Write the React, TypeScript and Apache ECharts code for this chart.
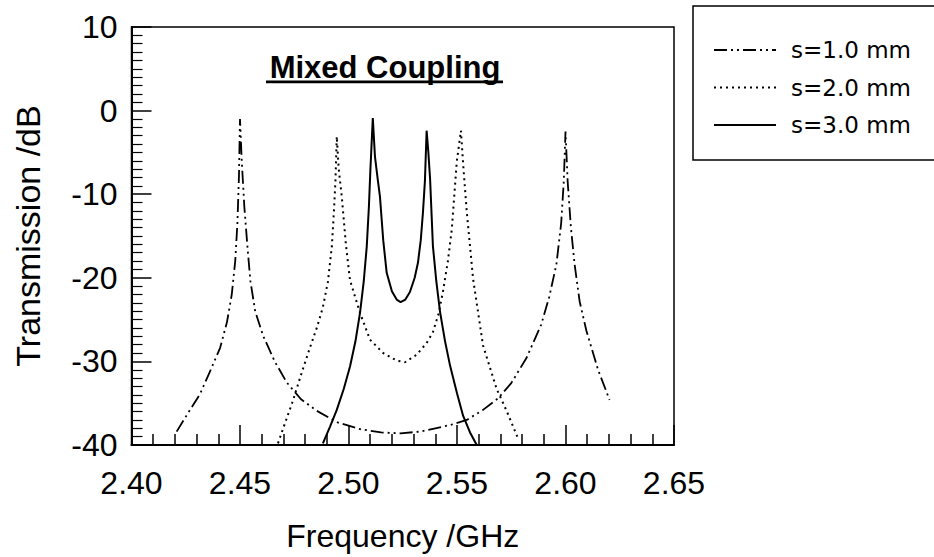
import React, { useEffect, useRef } from "react";
import * as echarts from "echarts";

const xTicks = [2.4, 2.45, 2.5, 2.55, 2.6, 2.65];
const yTicks = [-40, -30, -20, -10, 0, 10];

const seriesNames = ["s=1.0 mm", "s=2.0 mm", "s=3.0 mm"];

const s1Freq = [2.4208, 2.426, 2.4316, 2.436, 2.4408, 2.444, 2.4462, 2.4478, 2.4488, 2.4495, 2.45, 2.4508, 2.452, 2.4535, 2.4548, 2.457, 2.4606, 2.466, 2.4715, 2.478, 2.4853, 2.495, 2.5053, 2.515, 2.524, 2.533, 2.54, 2.547, 2.5545, 2.562, 2.569, 2.575, 2.582, 2.5888, 2.5925, 2.5958, 2.598, 2.5992, 2.6, 2.601, 2.6025, 2.6042, 2.6065, 2.6096, 2.615, 2.6203];
const s1Db = [-38.4, -36.2, -33.9, -31.3, -28.4, -25.3, -22.0, -18.0, -13.5, -8.0, -1.0, -6.0, -11.5, -16.5, -20.4, -24.0, -26.9, -30.0, -32.5, -34.5, -35.9, -37.3, -38.1, -38.5, -38.6, -38.4, -38.0, -37.6, -37.0, -35.8, -34.4, -32.6, -29.6, -25.6, -22.3, -18.4, -13.5, -8.5, -2.5, -8.5, -14.0, -18.4, -22.8, -26.3, -31.0, -34.6];

const s2Freq = [2.4675, 2.471, 2.4744, 2.4785, 2.4823, 2.4855, 2.4882, 2.4905, 2.4923, 2.4933, 2.494, 2.4946, 2.4955, 2.4969, 2.4988, 2.5007, 2.5053, 2.5099, 2.516, 2.5222, 2.526, 2.5314, 2.536, 2.5389, 2.5415, 2.5435, 2.5458, 2.5476, 2.5499, 2.5518, 2.553, 2.5545, 2.5574, 2.562, 2.5683, 2.573, 2.5781];
const s2Db = [-39.8, -37.2, -34.7, -31.3, -28.3, -25.9, -23.5, -20.5, -16.3, -12.0, -8.3, -3.1, -7.0, -10.3, -16.0, -20.3, -24.2, -27.4, -29.0, -29.9, -30.1, -29.2, -27.8, -26.5, -24.3, -21.7, -18.0, -14.2, -6.1, -2.4, -7.0, -12.1, -20.1, -28.1, -33.3, -36.0, -39.2];

const s3Freq = [2.4882, 2.4915, 2.4946, 2.4978, 2.5007, 2.5032, 2.5053, 2.507, 2.5084, 2.5094, 2.5101, 2.5112, 2.5122, 2.5135, 2.5145, 2.516, 2.5176, 2.52, 2.5222, 2.524, 2.5262, 2.5283, 2.5305, 2.532, 2.5333, 2.5343, 2.5352, 2.536, 2.5368, 2.5376, 2.5389, 2.5405, 2.5422, 2.5445, 2.5468, 2.55, 2.5528, 2.556, 2.5591];
const s3Db = [-39.8, -37.8, -35.8, -33.3, -30.6, -27.6, -24.2, -20.5, -16.3, -11.5, -7.0, -0.9, -5.5, -8.3, -10.3, -15.5, -19.4, -21.6, -22.6, -22.9, -22.6, -21.7, -20.0, -18.2, -15.5, -12.2, -8.5, -2.4, -5.0, -8.2, -16.2, -20.5, -24.1, -27.6, -30.5, -33.8, -36.5, -38.5, -40.0];

const FONT = "'Liberation Sans', Arial, sans-serif";

function pairs(xs: number[], ys: number[]) {
  return xs.map((x, i) => [x, ys[i]]);
}

export default function App() {
  const ref = useRef<HTMLDivElement>(null);
  useEffect(() => {
    if (!ref.current) return;
    const chart = echarts.init(ref.current, null, { renderer: "svg" });
    const lineStyles: any[] = [
      { color: "#000", width: 1.8, type: [13, 4, 2, 4, 2, 4] },
      { color: "#000", width: 2, type: [2, 4] },
      { color: "#000", width: 2, type: "solid" },
    ];
    const datas = [pairs(s1Freq, s1Db), pairs(s2Freq, s2Db), pairs(s3Freq, s3Db)];
    chart.setOption({
      animation: false,
      backgroundColor: "#fff",
      title: {
        text: "Mixed Coupling",
        left: 385,
        top: 52,
        textAlign: "center",
        padding: 0,
        textStyle: { fontFamily: FONT, fontSize: 31, fontWeight: "bold", color: "#000", lineHeight: 31 },
      },
      grid: {
        left: 131.5,
        right: 934 - 674,
        top: 27,
        bottom: 557 - 445,
        show: true,
        borderColor: "#000",
        borderWidth: 1.5,
      },
      legend: {
        orient: "vertical",
        left: 713,
        top: 38,
        padding: 0,
        itemWidth: 62,
        itemHeight: 24,
        itemGap: 13.5,
        data: seriesNames,
        itemStyle: { opacity: 0 },
        textStyle: { fontFamily: "'DejaVu Sans', sans-serif", fontSize: 23, lineHeight: 24, color: "#000", padding: [0, 0, 0, 10] },
      },
      xAxis: {
        type: "value",
        min: xTicks[0],
        max: xTicks[xTicks.length - 1],
        interval: 0.05,
        name: "Frequency /GHz",
        nameLocation: "middle",
        nameGap: 75,
        nameTextStyle: { fontFamily: FONT, fontSize: 32, color: "#000" },
        axisLine: { onZero: false, lineStyle: { color: "#000", width: 2 } },
        axisTick: { inside: true, length: 20, lineStyle: { color: "#000", width: 1.5 } },
        minorTick: { show: true, splitNumber: 5, length: 11, lineStyle: { color: "#000", width: 1.5 } },
        splitLine: { show: false },
        axisLabel: {
          margin: 22,
          fontFamily: FONT,
          fontSize: 32,
          color: "#000",
          formatter: (v: number) => v.toFixed(2),
        },
      },
      yAxis: {
        type: "value",
        min: yTicks[0],
        max: yTicks[yTicks.length - 1],
        interval: 10,
        name: "Transmission /dB",
        nameLocation: "middle",
        nameGap: 87,
        nameTextStyle: { fontFamily: FONT, fontSize: 34, color: "#000" },
        axisLine: { onZero: false, lineStyle: { color: "#000", width: 2 } },
        axisTick: { inside: true, length: 20, lineStyle: { color: "#000", width: 1.5 } },
        minorTick: { show: true, splitNumber: 10, length: 11, lineStyle: { color: "#000", width: 1.2 } },
        splitLine: { show: false },
        axisLabel: { margin: 14, fontFamily: FONT, fontSize: 32, color: "#000" },
      },
      graphic: [
        {
          type: "rect",
          shape: { x: 693, y: 6, width: 260, height: 154 },
          style: { fill: "none", stroke: "#000", lineWidth: 1.5 },
          silent: true,
        },
        {
          type: "rect",
          shape: { x: 266, y: 80.5, width: 237, height: 2.8 },
          style: { fill: "#000" },
          silent: true,
        },
      ],
      series: seriesNames.map((name, i) => ({
        name,
        type: "line",
        data: datas[i],
        showSymbol: false,
        symbol: "none",
        lineStyle: lineStyles[i],
        itemStyle: { color: "#000" },
      })),
    });
    return () => chart.dispose();
  }, []);
  return (
    <div
      ref={ref}
      style={{ position: "fixed", left: 0, top: 0, width: 934, height: 557, background: "#fff" }}
    />
  );
}
